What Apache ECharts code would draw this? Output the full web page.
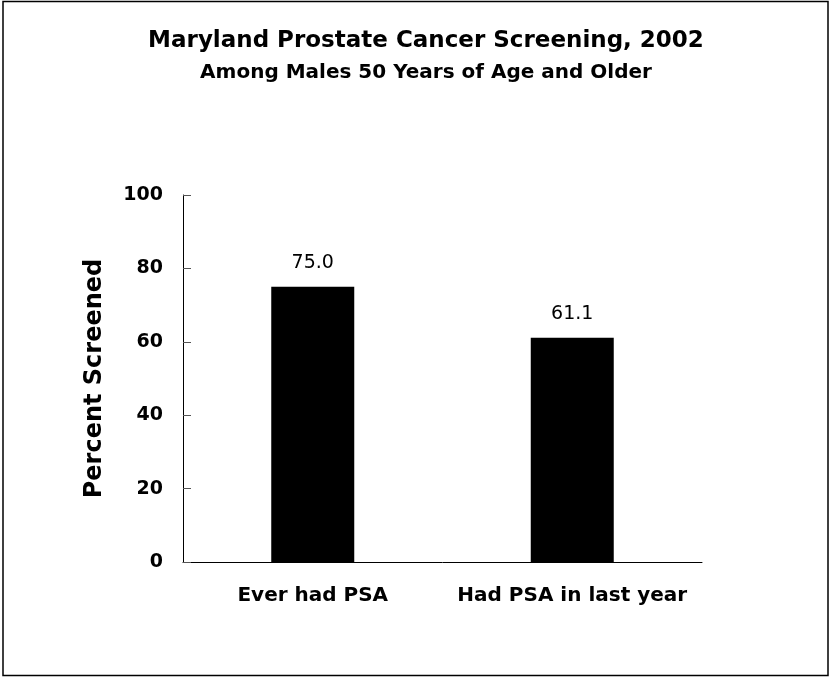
<!DOCTYPE html>
<html><head><meta charset="utf-8">
<script src="https://cdn.jsdelivr.net/npm/echarts@6/dist/echarts.min.js"></script>
<style>html,body{margin:0;padding:0;background:#fff}#c{width:830px;height:678px}</style>
</head><body><div id="c"></div>
<script>
var categories = ["Ever had PSA", "Had PSA in last year"];
var values = [75.0, 61.1];
var yTicks = [0, 20, 40, 60, 80, 100];
var titleText = 'Maryland Prostate Cancer Screening, 2002';
var subtitleText = 'Among Males 50 Years of Age and Older';

var chart = echarts.init(document.getElementById('c'));
var FONT = 'DejaVu Sans';
chart.setOption({
  animation: false,
  backgroundColor: '#fff',
  graphic: [{
    type: 'rect', silent: true,
    shape: {x: 3, y: 1.5, width: 825, height: 674},
    style: {fill: 'none', stroke: '#000', lineWidth: 1.5}
  }, {
    type: 'text', silent: true, x: 426, y: 30,
    style: {text: titleText, fontFamily: FONT, fontWeight: 'bold', fontSize: 23, fill: '#000',
      align: 'center', verticalAlign: 'top'}
  }, {
    type: 'text', silent: true, x: 426, y: 63,
    style: {text: subtitleText, fontFamily: FONT, fontWeight: 'bold', fontSize: 20, fill: '#000',
      align: 'center', verticalAlign: 'top'}
  }],
  grid: {left: 183, right: 128, top: 195, bottom: 116},
  xAxis: {
    type: 'category', data: categories,
    axisLine: {lineStyle: {color: '#000', width: 1}},
    axisTick: {show: false},
    axisLabel: {interval: 0, hideOverlap: false, fontFamily: FONT, fontWeight: 'bold', fontSize: 20, color: '#000', margin: 24}
  },
  yAxis: {
    type: 'value', min: 0, max: 100, interval: 20,
    name: 'Percent Screened', nameLocation: 'middle', nameGap: 76,
    nameTextStyle: {fontFamily: FONT, fontWeight: 'bold', fontSize: 24, color: '#000'},
    axisLine: {show: true, lineStyle: {color: '#000', width: 1}},
    axisTick: {show: true, inside: true, length: 8, lineStyle: {color: '#555'}},
    splitLine: {show: false},
    axisLabel: {fontFamily: FONT, fontWeight: 'bold', fontSize: 19, color: '#000', margin: 20,
      formatter: function (v) { return yTicks.indexOf(v) >= 0 ? String(v) : ''; }}
  },
  series: [{
    type: 'bar', data: values, barWidth: 83,
    itemStyle: {color: '#000'},
    label: {show: true, position: 'top', distance: 14, fontFamily: FONT, fontSize: 19, color: '#000',
      formatter: function (p) { return p.value.toFixed(1); }}
  }]
});
</script></body></html>
